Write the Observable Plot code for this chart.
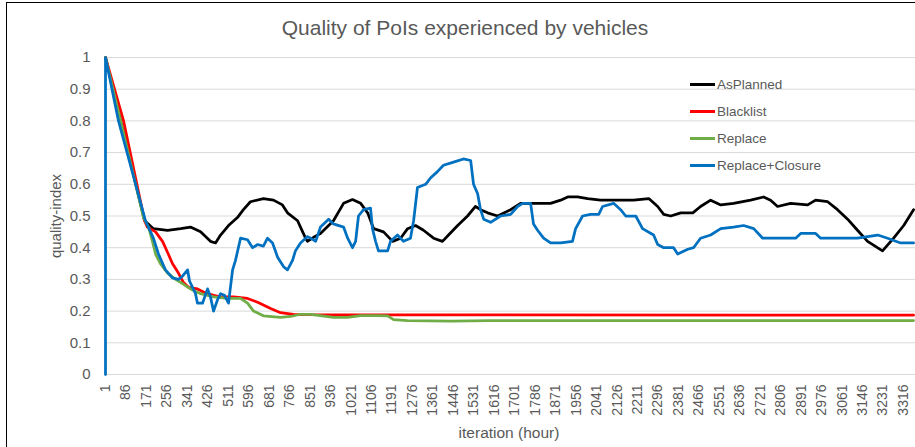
<!DOCTYPE html>
<html><head><meta charset="utf-8">
<script src="https://cdn.jsdelivr.net/npm/d3@7"></script>
<script src="https://cdn.jsdelivr.net/npm/@observablehq/plot@0.6"></script>
<style>
html,body{margin:0;padding:0;background:#fff;}
body{overflow:hidden;width:915px;height:447px;position:relative;font-family:"Liberation Sans",Arial,sans-serif;}
#frame{position:absolute;left:6px;top:2px;width:1000px;height:600px;border:1px solid #000;box-sizing:border-box;}
#chart{position:absolute;left:0;top:0;}
.t{position:absolute;color:#595959;white-space:nowrap;line-height:1;}
.leg{position:absolute;display:flex;align-items:center;color:#595959;font-size:13.5px;white-space:nowrap;}
.leg span.sw{display:inline-block;width:25px;height:3px;margin-right:2px;}
</style></head><body>
<div id="frame"></div>
<div id="chart"></div>
<script>
const chartTitle = "Quality of PoIs experienced by vehicles";
const xTitle = "iteration (hour)";
const yTitle = "quality-index";
const seriesNames = ["AsPlanned", "Blacklist", "Replace", "Replace+Closure"];
const seriesColors = ["#000000", "#ff0000", "#70ad47", "#0070c0"];
const xTicks = [1,86,171,256,341,426,511,596,681,766,851,936,1021,1106,1191,1276,1361,1446,1531,1616,1701,1786,1871,1956,2041,2126,2211,2296,2381,2466,2551,2636,2721,2806,2891,2976,3061,3146,3231,3316];
const yTicks = [0,0.1,0.2,0.3,0.4,0.5,0.6,0.7,0.8,0.9,1];

const asPlanned = [[1,1.0],[163,0.486],[200,0.46],[259,0.455],[313,0.46],[354,0.465],[396,0.45],[437,0.42],[458,0.415],[479,0.44],[512,0.47],[549,0.495],[574,0.52],[603,0.545],[657,0.555],[699,0.55],[736,0.535],[757,0.51],[799,0.485],[811,0.465],[832,0.43],[840,0.42],[870,0.435],[894,0.445],[948,0.485],[990,0.54],[1027,0.552],[1061,0.54],[1090,0.51],[1115,0.46],[1156,0.45],[1194,0.42],[1227,0.43],[1256,0.46],[1289,0.47],[1322,0.455],[1364,0.43],[1401,0.42],[1426,0.44],[1464,0.47],[1505,0.50],[1538,0.53],[1559,0.52],[1588,0.51],[1630,0.50],[1684,0.52],[1725,0.54],[1779,0.54],[1850,0.54],[1892,0.55],[1921,0.56],[1962,0.56],[2004,0.555],[2058,0.55],[2129,0.55],[2195,0.55],[2258,0.555],[2295,0.53],[2320,0.505],[2349,0.50],[2391,0.51],[2441,0.51],[2473,0.53],[2515,0.55],[2557,0.535],[2610,0.54],[2681,0.55],[2735,0.56],[2764,0.55],[2793,0.53],[2847,0.54],[2918,0.535],[2951,0.55],[3001,0.545],[3042,0.52],[3084,0.49],[3125,0.455],[3167,0.42],[3229,0.39],[3275,0.43],[3317,0.47],[3358,0.52]];
const blacklist = [[1,1.0],[76,0.80],[163,0.486],[175,0.465],[209,0.45],[238,0.42],[259,0.385],[279,0.35],[304,0.32],[325,0.29],[346,0.275],[383,0.27],[408,0.26],[450,0.25],[479,0.245],[533,0.245],[591,0.24],[633,0.228],[687,0.208],[728,0.195],[782,0.19],[811,0.189],[1200,0.188],[3358,0.187]];
const replace = [[1,1.0],[159,0.495],[180,0.465],[196,0.42],[209,0.38],[229,0.35],[259,0.32],[292,0.30],[321,0.287],[354,0.27],[396,0.255],[450,0.245],[508,0.24],[562,0.24],[591,0.225],[616,0.20],[657,0.185],[728,0.18],[770,0.183],[811,0.19],[853,0.19],[948,0.18],[1007,0.18],[1061,0.186],[1131,0.186],[1173,0.185],[1198,0.173],[1256,0.17],[1435,0.168],[1600,0.17],[3358,0.17]];
const replaceClosure = [[1,0],[1,1.0],[55,0.80],[167,0.485],[200,0.43],[221,0.38],[250,0.33],[279,0.305],[304,0.30],[321,0.31],[342,0.33],[350,0.295],[375,0.255],[383,0.225],[404,0.225],[425,0.27],[437,0.245],[450,0.20],[466,0.235],[479,0.255],[495,0.25],[512,0.225],[529,0.33],[541,0.36],[562,0.43],[591,0.425],[612,0.40],[633,0.41],[657,0.405],[674,0.43],[695,0.415],[716,0.37],[741,0.34],[757,0.33],[778,0.36],[790,0.39],[811,0.415],[840,0.435],[853,0.43],[874,0.42],[894,0.465],[928,0.49],[948,0.475],[990,0.465],[1007,0.43],[1027,0.40],[1040,0.42],[1052,0.50],[1073,0.52],[1102,0.525],[1110,0.46],[1123,0.42],[1135,0.39],[1173,0.39],[1185,0.42],[1214,0.44],[1239,0.42],[1268,0.43],[1281,0.485],[1297,0.59],[1331,0.60],[1351,0.62],[1380,0.64],[1405,0.66],[1447,0.67],[1488,0.68],[1518,0.675],[1530,0.60],[1547,0.57],[1559,0.52],[1572,0.49],[1601,0.48],[1642,0.50],[1684,0.505],[1713,0.53],[1734,0.54],[1767,0.54],[1779,0.475],[1796,0.455],[1821,0.43],[1850,0.415],[1892,0.415],[1941,0.42],[1954,0.46],[1983,0.50],[2016,0.505],[2050,0.505],[2066,0.53],[2112,0.54],[2141,0.52],[2162,0.50],[2204,0.50],[2232,0.46],[2278,0.44],[2295,0.41],[2320,0.40],[2361,0.40],[2378,0.38],[2420,0.395],[2444,0.40],[2473,0.43],[2515,0.44],[2557,0.46],[2610,0.465],[2652,0.47],[2694,0.46],[2731,0.43],[2764,0.43],[2818,0.43],[2868,0.43],[2889,0.445],[2951,0.445],[2972,0.43],[3055,0.43],[3125,0.43],[3167,0.435],[3209,0.44],[3250,0.43],[3304,0.415],[3358,0.415]];

const seriesData = [asPlanned, blacklist, replace, replaceClosure];
const rows = [];
seriesNames.forEach((name, i) => seriesData[i].forEach(([x, y]) => rows.push({series: name, x, y})));

const plot = Plot.plot({
  width: 915, height: 447,
  marginTop: 57, marginBottom: 73, marginLeft: 105, marginRight: 0,
  x: {domain: [1, 3366]},
  y: {domain: [0, 1]},
  color: {domain: seriesNames, range: seriesColors},
  style: {fontFamily: "Liberation Sans, Arial, sans-serif", background: "transparent", overflow: "visible"},
  marks: [
    Plot.gridY(yTicks, {stroke: "#d9d9d9", strokeOpacity: 1, strokeWidth: 1}),
    Plot.axisY(yTicks, {tickSize: 0, tickPadding: 15, fontSize: 15, fill: "#595959", label: null, tickFormat: d => String(d)}),
    Plot.axisX(xTicks, {tickSize: 0, tickRotate: -90, tickPadding: 10, fontSize: 14, fill: "#595959", label: null, tickFormat: d => String(d)}),
    Plot.line(rows, {x: "x", y: "y", z: "series", stroke: "series", strokeWidth: 2.75})
  ]
});
document.getElementById("chart").appendChild(plot);

function addText(txt, cx, cy, size, rot) {
  const d = document.createElement("div");
  d.className = "t";
  d.textContent = txt;
  d.style.fontSize = size + "px";
  d.style.left = cx + "px";
  d.style.top = cy + "px";
  d.style.transform = "translate(-50%,-50%)" + (rot ? " rotate(" + rot + "deg)" : "");
  document.body.appendChild(d);
}
addText(chartTitle, 465, 27, 21, 0);
addText(xTitle, 509, 433, 15.5, 0);
addText(yTitle, 55, 215.5, 15, -90);

seriesNames.forEach((name, i) => {
  const d = document.createElement("div");
  d.className = "leg";
  d.style.left = "690px";
  d.style.top = (84 + i * 27 - 9) + "px";
  d.style.height = "18px";
  const sw = document.createElement("span");
  sw.className = "sw";
  sw.style.background = seriesColors[i];
  d.appendChild(sw);
  const tx = document.createElement("span");
  tx.textContent = name;
  d.appendChild(tx);
  document.body.appendChild(d);
});
</script>
</body></html>
